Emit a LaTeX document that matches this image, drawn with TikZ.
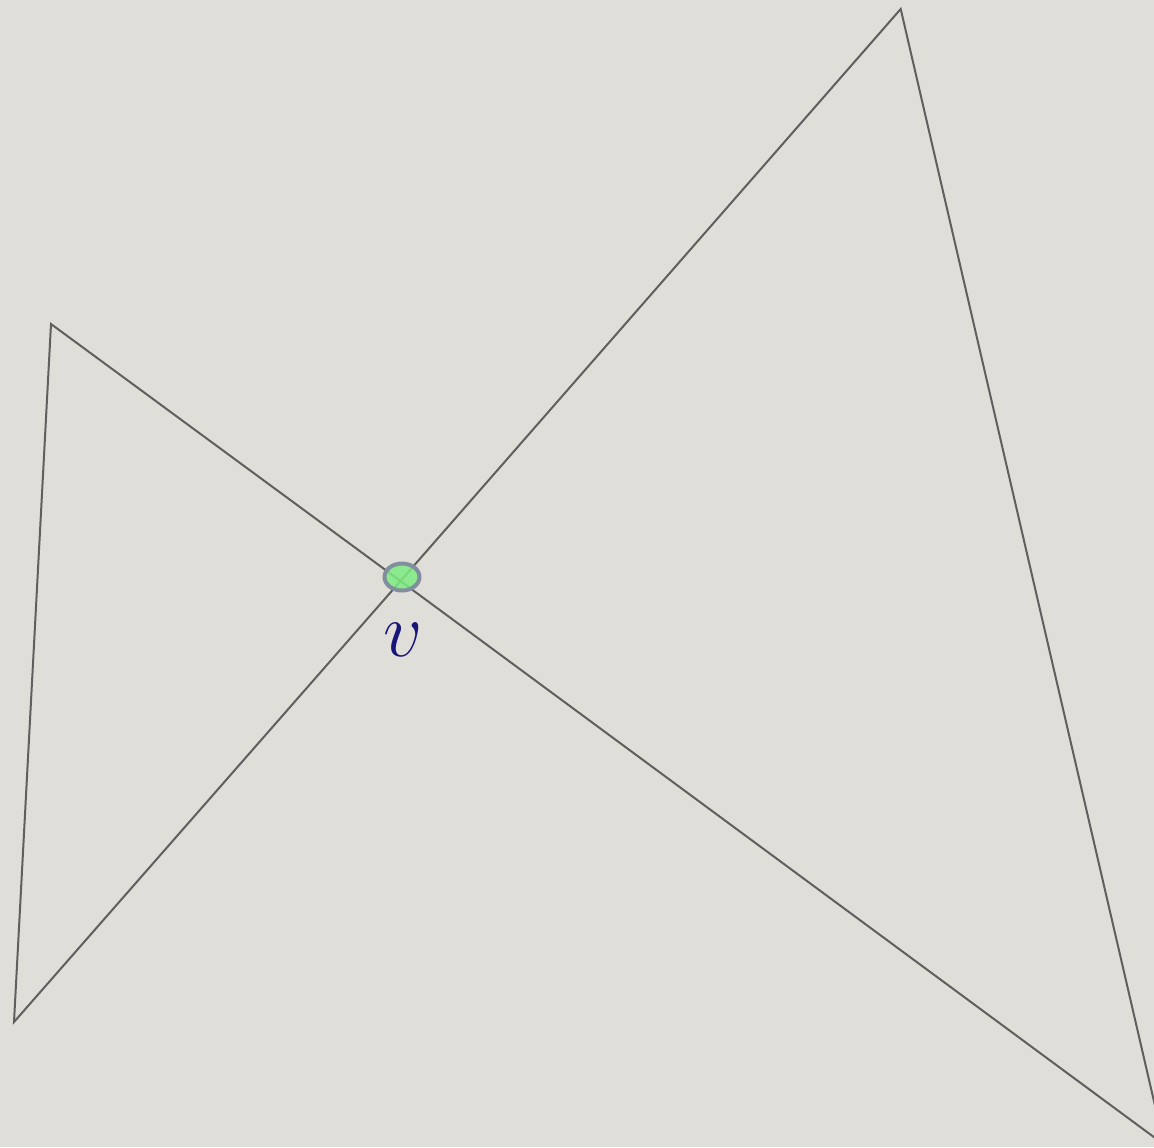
\documentclass[tikz,border=0pt]{standalone}
\usepackage{graphicx}
\usetikzlibrary{shapes.geometric}
\definecolor{paper}{RGB}{224,222,216}
\definecolor{edgecol}{RGB}{95,95,95}
\definecolor{vfill}{RGB}{125,235,130}
\definecolor{vborder}{RGB}{128,142,158}
\definecolor{labcol}{RGB}{25,20,120}
\tikzset{
  edge/.style={draw=edgecol, line width=1pt, line join=miter},
  vertexdot/.style={ellipse, draw=vborder, line width=2pt, fill=vfill, fill opacity=0.85, draw opacity=1, minimum width=17.5pt, minimum height=13.5pt, inner sep=0pt},
  vlabel/.style={text=labcol, inner sep=0pt, font=\Huge}
}
\begin{document}
\begin{tikzpicture}[x=0.5pt, y=-0.5pt]
\fill[paper] (0,0) rectangle (1154,1147);
\useasboundingbox (0,0) rectangle (1154,1147);
\begin{scope}
\clip (0,0) rectangle (1154,1147);
\coordinate (A) at (51,324);
\coordinate (B) at (14,1022);
\coordinate (C) at (900.7,9);
\coordinate (D) at (1164,1144.5);
\coordinate (X) at (400.5,581);
\draw[edge] (A) -- (X) -- (D) -- (C) -- (X) -- (B) -- cycle;
\end{scope}
\node[vertexdot] (v) at (402,577) {};
\node[vlabel] (vl) at (403,640) {\scalebox{1.55}{$v$}};
\end{tikzpicture}
\end{document}
